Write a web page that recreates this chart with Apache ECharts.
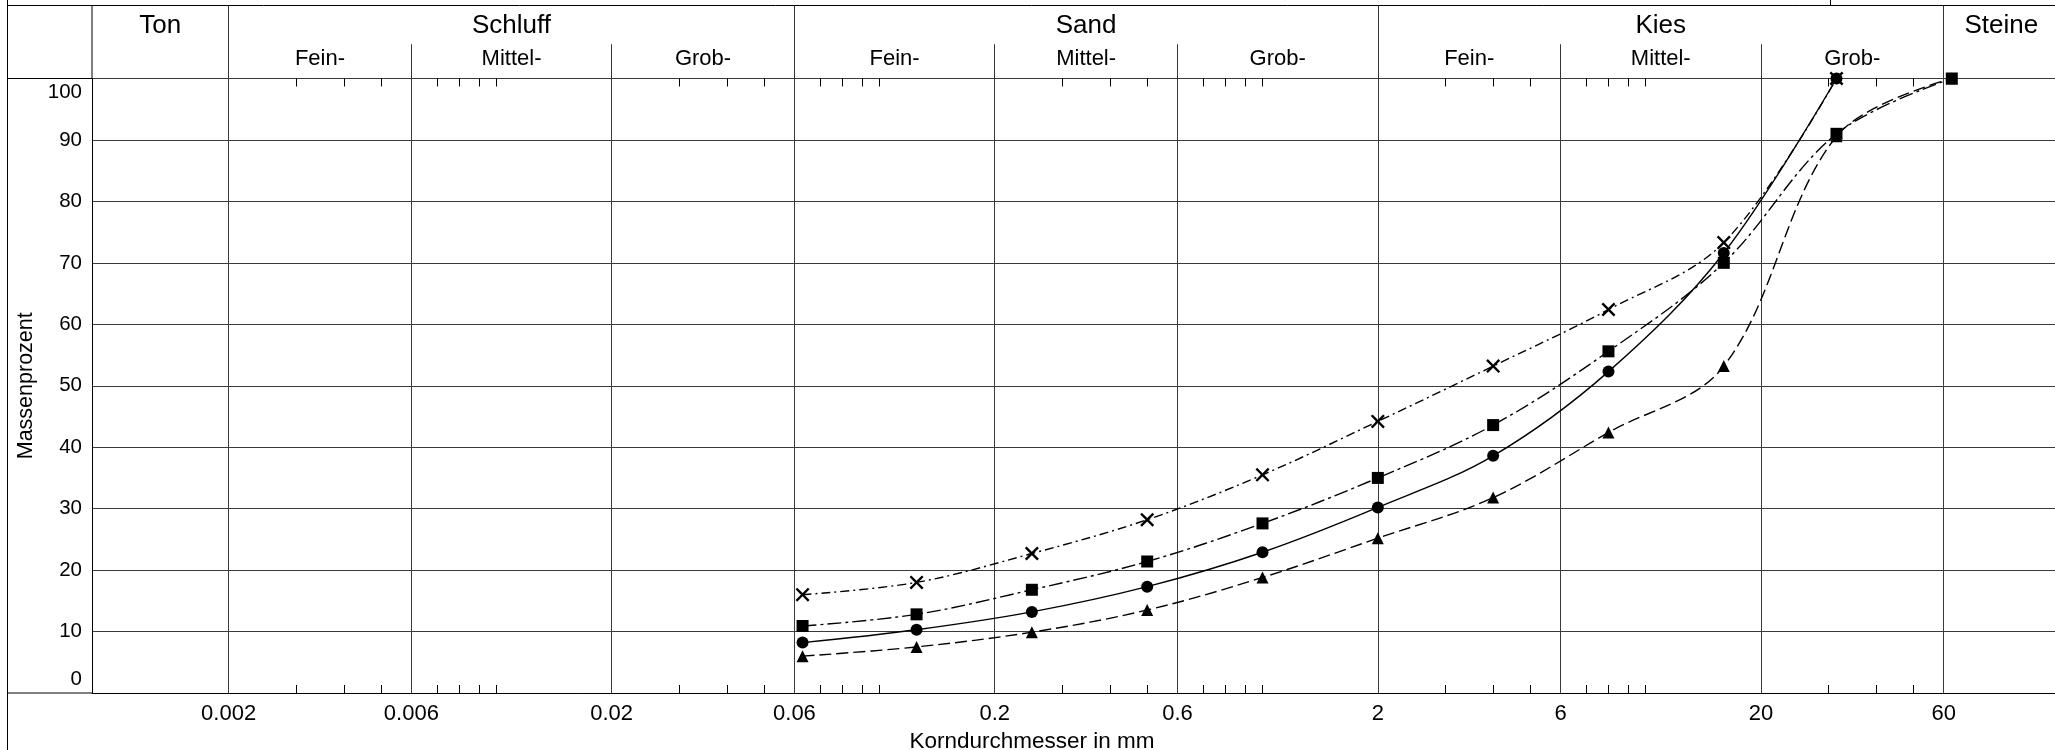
<!DOCTYPE html>
<html><head><meta charset="utf-8">
<script src="https://cdn.jsdelivr.net/npm/echarts@6/dist/echarts.min.js"></script>
<style>html,body{margin:0;padding:0;background:#fff}#c{width:2055px;height:750px}</style>
</head><body><div id="c"></div>
<script>
// ---- data ----
const sieveSizes   = [0.063, 0.125, 0.25, 0.5, 1, 2, 4, 8, 16, 31.5, 63];
const passCross    = [16.0, 18.0, 22.7, 28.2, 35.5, 44.2, 53.2, 62.4, 73.3, 100];
const passTriangle = [6.0, 7.5, 9.9, 13.5, 18.8, 25.2, 31.8, 42.4, 53.2, 90.6, 100];
const passSquare   = [10.9, 12.8, 16.8, 21.4, 27.6, 35.0, 43.6, 55.6, 70.0, 91.0, 100];
const passCircle   = [8.2, 10.3, 13.2, 17.3, 22.9, 30.2, 38.6, 52.3, 71.6, 100];

const xMajorTicks  = [0.002, 0.006, 0.02, 0.06, 0.2, 0.6, 2, 6, 20, 60];
const xMajorLabels = ['0.002', '0.006', '0.02', '0.06', '0.2', '0.6', '2', '6', '20', '60'];
const xMinorTicks  = [0.003, 0.004, 0.005, 0.007, 0.008, 0.009, 0.01,
                      0.03, 0.04, 0.05, 0.07, 0.08, 0.09, 0.1,
                      0.3, 0.4, 0.5, 0.7, 0.8, 0.9, 1,
                      3, 4, 5, 7, 8, 9, 10,
                      30, 40, 50];
const yTicks = [0, 100, 10]; // min, max, interval

const soilGroups  = ['Ton', 'Schluff', 'Sand', 'Kies', 'Steine'];
const X_MIN = 0.00088, X_MAX = 120;
const groupBounds = [X_MIN, 0.002, 0.06, 2, 60, X_MAX];
const subLabels   = ['Fein-', 'Mittel-', 'Grob-'];

// ---- chart ----
const FONT = '"Liberation Sans", Arial, sans-serif';
const GL = 92, GW = 1967, GT = 78.5, GH = 614.5;
const HT = 5.5, HH = GT - HT;
const SUB_TOP = 46.9; // header units (0..100)

function pairs(vals) { return vals.map((v, i) => [sieveSizes[i], v]); }
function fmtX(v) {
  let best = 0, bd = Infinity;
  xMajorTicks.forEach((t, i) => { const d = Math.abs(Math.log(t) - Math.log(v)); if (d < bd) { bd = d; best = i; } });
  return xMajorLabels[best];
}
const crossPath = 'path://M0,1.2L1.2,0L5,3.8L8.8,0L10,1.2L6.2,5L10,8.8L8.8,10L5,6.2L1.2,10L0,8.8L3.8,5Z';

const groupDividers = groupBounds.slice(1, -1);
const subDividers = xMajorTicks.filter(v => groupDividers.indexOf(v) < 0);

const headerMainAreas = soilGroups.map((g, i) => [
  { name: g, coord: [groupBounds[i], SUB_TOP - 2.7] }, { coord: [groupBounds[i + 1], 100] }
]);
const headerSubAreas = [];
for (let i = 0; i < xMajorTicks.length - 1; i++) {
  headerSubAreas.push([{ name: subLabels[i % 3], coord: [xMajorTicks[i], 0] }, { coord: [xMajorTicks[i + 1], 54.4] }]);
}
const headerLines = groupDividers.map(v => [{ coord: [v, 0] }, { coord: [v, 100] }])
  .concat(subDividers.map(v => [{ coord: [v, 0] }, { coord: [v, SUB_TOP] }]));

const lineBase = { type: 'line', xAxisIndex: 0, yAxisIndex: 0, smooth: 0.35, animation: false, silent: true,
  itemStyle: { color: '#000' } };

const option = {
  animation: false,
  backgroundColor: '#fff',
  textStyle: { fontFamily: FONT, color: '#000' },
  grid: [
    { left: GL, top: GT, width: GW, height: GH, outerBoundsMode: 'none', containLabel: false },
    { left: GL, top: HT, width: GW, height: HH, outerBoundsMode: 'none', containLabel: false }
  ],
  xAxis: [
    { gridIndex: 0, type: 'log', logBase: 10, min: X_MIN, max: X_MAX, position: 'bottom',
      axisLine: { show: true, lineStyle: { color: '#000', width: 1 } },
      axisTick: { show: false, customValues: xMajorTicks },
      axisLabel: { customValues: xMajorTicks, formatter: fmtX, fontSize: 22, color: '#000', fontFamily: FONT, margin: 10 },
      splitLine: { show: true, lineStyle: { color: '#3a3a3a', width: 1 } },
      name: 'Korndurchmesser in mm', nameLocation: 'middle', nameGap: 33,
      nameTextStyle: { fontSize: 22.5, color: '#000', fontFamily: FONT, padding: [0, 87, 0, 0] } },
    { gridIndex: 0, type: 'log', logBase: 10, min: X_MIN, max: X_MAX, position: 'bottom',
      axisLine: { show: false },
      axisTick: { show: true, inside: true, length: 8, customValues: xMinorTicks, lineStyle: { color: '#000', width: 1 } },
      axisLabel: { show: false }, splitLine: { show: false } },
    { gridIndex: 0, type: 'log', logBase: 10, min: X_MIN, max: X_MAX, position: 'top',
      axisLine: { show: false },
      axisTick: { show: true, inside: true, length: 8, customValues: xMinorTicks, lineStyle: { color: '#000', width: 1 } },
      axisLabel: { show: false }, splitLine: { show: false } },
    { gridIndex: 1, type: 'log', logBase: 10, min: X_MIN, max: X_MAX, show: false }
  ],
  yAxis: [
    { gridIndex: 0, type: 'value', min: yTicks[0], max: yTicks[1], interval: yTicks[2],
      axisLine: { show: true, lineStyle: { color: '#000', width: 1 } },
      axisTick: { show: false },
      axisLabel: { fontSize: 20.5, lineHeight: 28, color: '#000', fontFamily: FONT, margin: 10,
        verticalAlignMinLabel: 'bottom', verticalAlignMaxLabel: 'top' },
      splitLine: { show: true, lineStyle: { color: '#3a3a3a', width: 1 } },
      name: 'Massenprozent', nameLocation: 'middle', nameRotate: 90, nameGap: 54,
      nameTextStyle: { fontSize: 21.5, color: '#000', fontFamily: FONT } },
    { gridIndex: 1, type: 'value', min: 0, max: 100, show: false }
  ],
  series: [
    Object.assign({}, lineBase, { name: 'x', data: pairs(passCross), symbol: crossPath, symbolSize: 14,
      lineStyle: { color: '#000', width: 1.4, type: [9, 4, 2, 4] } }),
    Object.assign({}, lineBase, { name: 'tri', data: pairs(passTriangle), symbol: 'triangle', symbolSize: 12,
      lineStyle: { color: '#000', width: 1.4, type: [12, 5] } }),
    Object.assign({}, lineBase, { name: 'sq', data: pairs(passSquare), symbol: 'rect', symbolSize: 12,
      lineStyle: { color: '#000', width: 1.4, type: [14, 4, 3, 4] } }),
    Object.assign({}, lineBase, { name: 'ci', data: pairs(passCircle), symbol: 'circle', symbolSize: 12,
      lineStyle: { color: '#000', width: 1.4, type: 'solid' } }),
    { type: 'line', xAxisIndex: 3, yAxisIndex: 1, data: [], silent: true, symbol: 'none',
      markArea: { silent: true, itemStyle: { color: 'rgba(0,0,0,0)' },
        label: { show: true, position: 'inside', fontSize: 26, color: '#000', fontFamily: FONT },
        data: headerMainAreas },
      markLine: { silent: true, symbol: 'none', animation: false,
        lineStyle: { color: '#333', width: 1, type: 'solid' }, label: { show: false },
        data: headerLines } },
    { type: 'line', xAxisIndex: 3, yAxisIndex: 1, data: [], silent: true, symbol: 'none',
      markArea: { silent: true, itemStyle: { color: 'rgba(0,0,0,0)' },
        label: { show: true, position: 'inside', fontSize: 22, color: '#000', fontFamily: FONT },
        data: headerSubAreas } }
  ],
  graphic: [
    { type: 'line', silent: true, shape: { x1: 7.5, y1: 0, x2: 7.5, y2: 750 }, style: { stroke: '#000', lineWidth: 1 } },
    { type: 'line', silent: true, shape: { x1: 7.5, y1: HT, x2: 2055, y2: HT }, style: { stroke: '#000', lineWidth: 1 } },
    { type: 'line', silent: true, shape: { x1: 1830.5, y1: 0, x2: 1830.5, y2: HT }, style: { stroke: '#000', lineWidth: 1 } },
    { type: 'line', silent: true, shape: { x1: 7.5, y1: GT, x2: GL, y2: GT }, style: { stroke: '#000', lineWidth: 1 } },
    { type: 'line', silent: true, shape: { x1: 7.5, y1: GT + GH, x2: GL, y2: GT + GH }, style: { stroke: '#000', lineWidth: 1 } },
    { type: 'line', silent: true, shape: { x1: GL, y1: HT, x2: GL, y2: GT }, style: { stroke: '#000', lineWidth: 1 } }
  ]
};
const chart = echarts.init(document.getElementById('c'));
chart.setOption(option);
</script></body></html>
